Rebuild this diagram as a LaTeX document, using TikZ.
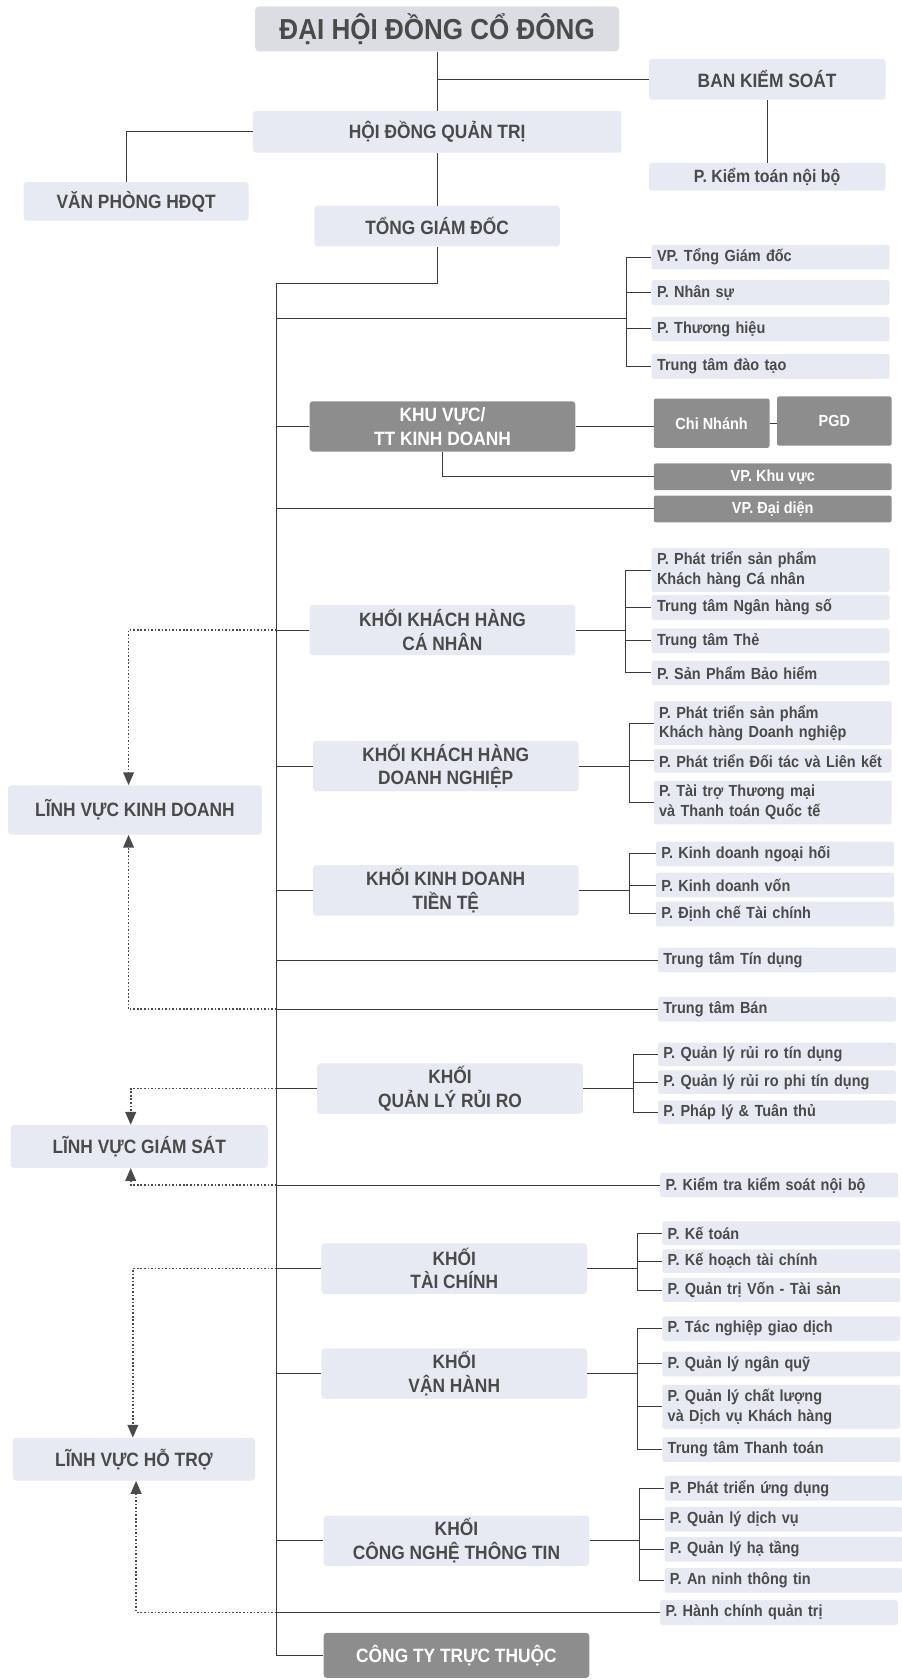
\documentclass[tikz,border=0pt]{standalone}
\usepackage{fontspec}
\setmainfont{Liberation Sans}[FakeStretch=0.9]
\usetikzlibrary{arrows.meta}
\definecolor{boxfill}{HTML}{E8EAF3}
\definecolor{topfill}{HTML}{DCDDE3}
\definecolor{darkfill}{HTML}{8D8D8D}
\definecolor{inkgray}{HTML}{4A4A4A}
\definecolor{wiregray}{HTML}{3A3A3A}

\begin{document}
\begin{tikzpicture}[x=1pt,y=-1pt,
  every node/.style={inner sep=0pt,text=inkgray},
  topbox/.style={fill=topfill,rounded corners=4pt,minimum width=340pt,minimum height=42pt,font=\fontsize{27}{31}\selectfont\bfseries},
  head/.style={fill=boxfill,rounded corners=3pt,minimum width=248pt,minimum height=47pt,align=center,font=\fontsize{18}{22}\selectfont\bfseries},
  darkhead/.style={head,fill=darkfill,text=white},
  sub/.style={fill=boxfill,rounded corners=2pt,anchor=west,minimum height=23pt,text width=212pt,inner xsep=5pt,align=left,font=\fontsize{15}{18.5}\selectfont\bfseries},
  subtwo/.style={sub,minimum height=41pt},
  darksub/.style={fill=darkfill,text=white,rounded corners=2pt,anchor=west,minimum width=222pt,minimum height=25pt,font=\fontsize{15}{18.5}\selectfont\bfseries},
  wire/.style={draw=wiregray,line width=0.9pt},
  dots/.style={draw=inkgray,line width=1.5pt,dash pattern=on 1.5pt off 1.8pt,-{Triangle[width=10pt,length=12pt]}}]
\useasboundingbox (0,0) rectangle (841,1568);
% top of the chart
\node[topbox] (dhdcd) at (408,27) {ĐẠI HỘI ĐỒNG CỔ ĐÔNG};
\node[head,minimum width=221pt,minimum height=38pt] (bks) at (716,74) {BAN KIỂM SOÁT};
\node[head,minimum width=221pt,minimum height=26pt,font=\fontsize{16.5}{20}\selectfont\bfseries] (ktnb) at (716,165) {P. Kiểm toán nội bộ};
\node[head,minimum width=344pt,minimum height=39pt] (hdqt) at (408,123) {HỘI ĐỒNG QUẢN TRỊ};
\node[head,minimum width=210pt,minimum height=36pt] (vphdqt) at (127,188) {VĂN PHÒNG HĐQT};
\node[head,minimum width=229pt,minimum height=38pt] (tgd) at (408,211) {TỔNG GIÁM ĐỐC};
\draw[wire] (dhdcd.south) -- (hdqt.north);
\draw[wire] (bks.west) -- (bks.west -| dhdcd.south);
\draw[wire] (bks.south) -- (ktnb.north);
\draw[wire] (hdqt.west) -| ([xshift=-9pt]vphdqt.north);
\draw[wire] (hdqt.south) -- (tgd.north);

% spine
\coordinate (spinetop) at (258,265);

% staff of the general director
\node[sub] (vptgd) at (608,240) {VP. Tổng Giám đốc};
\node[sub] (nhansu) at (608,273) {P. Nhân sự};
\node[sub] (thuonghieu) at (608,307) {P. Thương hiệu};
\node[sub] (daotao) at (608,342) {Trung tâm đào tạo};
\coordinate (staff) at (585,297);
\draw[wire] (vptgd.west) -| (staff) |- (daotao.west);
\draw[wire] (nhansu.west) -- (nhansu.west -| staff);
\draw[wire] (thuonghieu.west) -- (thuonghieu.west -| staff);
\draw[wire] (staff) -- (staff -| spinetop);

% sales region
\node[darkhead] (kv) at (413,398) {KHU VỰC/\\TT KINH DOANH};
\node[darksub,minimum width=108pt,minimum height=46pt] (chinhanh) at (610,395) {Chi Nhánh};
\node[darksub,minimum width=107pt,minimum height=46pt] (pgd) at (725,393) {PGD};
\node[darksub] (vpkv) at (610,445) {VP. Khu vực};
\node[darksub] (vpdd) at (610,475) {VP. Đại diện};
\draw[wire] (kv.west) -- (kv.west -| spinetop);
\draw[wire] (kv.east) -- (kv.east -| chinhanh.west);
\draw[wire] (chinhanh.east) -- (chinhanh.east -| pgd.west);
\draw[wire] (kv.south) |- (vpkv.west);
\draw[wire] (vpdd.west) -- (vpdd.west -| spinetop);

% retail customers
\node[head] (khcn) at (413,588) {KHỐI KHÁCH HÀNG\\CÁ NHÂN};
\node[subtwo] (ptcn) at (608,532) {P. Phát triển sản phẩm\\Khách hàng Cá nhân};
\node[sub] (nhso) at (608,567) {Trung tâm Ngân hàng số};
\node[sub] (the) at (608,598) {Trung tâm Thẻ};
\node[sub] (baohiem) at (608,628) {P. Sản Phẩm Bảo hiểm};
\coordinate (khcnfork) at ([xshift=47pt]khcn.east);
\draw[wire] (khcn.west) -- (khcn.west -| spinetop);
\draw[wire] (khcn.east) -- (khcnfork);
\draw[wire] (ptcn.west) -| (khcnfork) |- (baohiem.west);
\draw[wire] (nhso.west) -- (nhso.west -| khcnfork);
\draw[wire] (the.west) -- (the.west -| khcnfork);

% corporate customers
\node[head] (khdn) at (416,715) {KHỐI KHÁCH HÀNG\\DOANH NGHIỆP};
\node[subtwo] (ptdn) at (610,675) {P. Phát triển sản phẩm\\Khách hàng Doanh nghiệp};
\node[sub,minimum height=22pt] (doitac) at (610,710) {P. Phát triển Đối tác và Liên kết};
\node[subtwo] (taitro) at (610,749) {P. Tài trợ Thương mại\\và Thanh toán Quốc tế};
\coordinate (khdnfork) at ([xshift=47pt]khdn.east);
\draw[wire] (khdn.west) -- (khdn.west -| spinetop);
\draw[wire] (khdn.east) -- (khdnfork);
\draw[wire] (ptdn.west) -| (khdnfork) |- (taitro.west);
\draw[wire] (doitac.west) -- (doitac.west -| khdnfork);

% treasury
\node[head] (kdtt) at (416,831) {KHỐI KINH DOANH\\TIỀN TỆ};
\node[sub] (ngoaihoi) at (612,797) {P. Kinh doanh ngoại hối};
\node[sub] (von) at (612,826) {P. Kinh doanh vốn};
\node[sub] (dinhche) at (612,853) {P. Định chế Tài chính};
\coordinate (kdttfork) at ([xshift=47pt]kdtt.east);
\draw[wire] (kdtt.west) -- (kdtt.west -| spinetop);
\draw[wire] (kdtt.east) -- (kdttfork);
\draw[wire] (ngoaihoi.west) -| (kdttfork) |- (dinhche.west);
\draw[wire] (von.west) -- (von.west -| kdttfork);

\node[sub] (tindung) at (614,896) {Trung tâm Tín dụng};
\node[sub] (ban) at (614,942) {Trung tâm Bán};
\draw[wire] (tindung.west) -- (tindung.west -| spinetop);
\draw[wire] (ban.west) -- (ban.west -| spinetop);

% risk
\node[head] (qlrr) at (420,1016) {KHỐI\\QUẢN LÝ RỦI RO};
\node[sub,minimum height=22pt] (rrtd) at (614,984) {P. Quản lý rủi ro tín dụng};
\node[sub,minimum height=22pt] (rrptd) at (614,1010) {P. Quản lý rủi ro phi tín dụng};
\node[sub,minimum height=22pt] (phaply) at (614,1038) {P. Pháp lý \& Tuân thủ};
\coordinate (qlrrfork) at ([xshift=47pt]qlrr.east);
\draw[wire] (qlrr.west) -- (qlrr.west -| spinetop);
\draw[wire] (qlrr.east) -- (qlrrfork);
\draw[wire] (rrtd.west) -| (qlrrfork) |- (phaply.west);
\draw[wire] (rrptd.west) -- (rrptd.west -| qlrrfork);

\node[sub] (ktks) at (616,1106) {P. Kiểm tra kiểm soát nội bộ};
\draw[wire] (ktks.west) -- (ktks.west -| spinetop);

% finance
\node[head] (taichinh) at (424,1184) {KHỐI\\TÀI CHÍNH};
\node[sub,minimum height=22pt] (ketoan) at (618,1151) {P. Kế toán};
\node[sub,minimum height=22pt] (kehoach) at (618,1177) {P. Kế hoạch tài chính};
\node[sub,minimum height=22pt] (quantri) at (618,1204) {P. Quản trị Vốn - Tài sản};
\coordinate (tcfork) at ([xshift=47pt]taichinh.east);
\draw[wire] (taichinh.west) -- (taichinh.west -| spinetop);
\draw[wire] (taichinh.east) -- (tcfork);
\draw[wire] (ketoan.west) -| (tcfork) |- (quantri.west);
\draw[wire] (kehoach.west) -- (kehoach.west -| tcfork);

% operations
\node[head] (vanhanh) at (424,1282) {KHỐI\\VẬN HÀNH};
\node[sub] (tacnghiep) at (618,1240) {P. Tác nghiệp giao dịch};
\node[sub] (nganquy) at (618,1273) {P. Quản lý ngân quỹ};
\node[subtwo] (chatluong) at (618,1313) {P. Quản lý chất lượng\\và Dịch vụ Khách hàng};
\node[sub] (thanhtoan) at (618,1353) {Trung tâm Thanh toán};
\coordinate (vhfork) at ([xshift=47pt]vanhanh.east);
\draw[wire] (vanhanh.west) -- (vanhanh.west -| spinetop);
\draw[wire] (vanhanh.east) -- (vhfork);
\draw[wire] (tacnghiep.west) -| (vhfork) |- (thanhtoan.west);
\draw[wire] (nganquy.west) -- (nganquy.west -| vhfork);
\draw[wire] (chatluong.west) -- (chatluong.west -| vhfork);

% IT
\node[head] (cntt) at (426,1438) {KHỐI\\CÔNG NGHỆ THÔNG TIN};
\node[sub] (ungdung) at (620,1389) {P. Phát triển ứng dụng};
\node[sub] (dichvu) at (620,1418) {P. Quản lý dịch vụ};
\node[sub] (hatang) at (620,1446) {P. Quản lý hạ tầng};
\node[sub] (anninh) at (620,1475) {P. An ninh thông tin};
\coordinate (cnttfork) at ([xshift=47pt]cntt.east);
\draw[wire] (cntt.west) -- (cntt.west -| spinetop);
\draw[wire] (cntt.east) -- (cnttfork);
\draw[wire] (ungdung.west) -| (cnttfork) |- (anninh.west);
\draw[wire] (dichvu.west) -- (dichvu.west -| cnttfork);
\draw[wire] (hatang.west) -- (hatang.west -| cnttfork);

\node[sub] (hcqt) at (616,1505) {P. Hành chính quản trị};
\draw[wire] (hcqt.west) -- (hcqt.west -| spinetop);

\node[darkhead,minimum height=42pt] (cttt) at (426,1545) {CÔNG TY TRỰC THUỘC};
\draw[wire] (tgd.south) |- (spinetop) |- (cttt.west);

% fields on the left
\node[head,minimum width=237pt,minimum height=46pt] (lvkd) at (126,756) {LĨNH VỰC KINH DOANH};
\node[head,minimum width=240pt,minimum height=40pt] (lvgs) at (130,1070) {LĨNH VỰC GIÁM SÁT};
\node[head,minimum width=226pt,minimum height=40pt] (lvht) at (125,1362) {LĨNH VỰC HỖ TRỢ};
\draw[dots] (khcn.west -| spinetop) -| ([xshift=-6pt]lvkd.north);
\draw[dots] (ban.west -| spinetop) -| ([xshift=-6pt]lvkd.south);
\draw[dots] (qlrr.west -| spinetop) -| ([xshift=-8pt]lvgs.north);
\draw[dots] (ktks.west -| spinetop) -| ([xshift=-8pt]lvgs.south);
\draw[dots] (taichinh.west -| spinetop) -| ([xshift=-1pt]lvht.north);
\draw[dots] (hcqt.west -| spinetop) -| ([xshift=2pt]lvht.south);
\end{tikzpicture}
\end{document}
